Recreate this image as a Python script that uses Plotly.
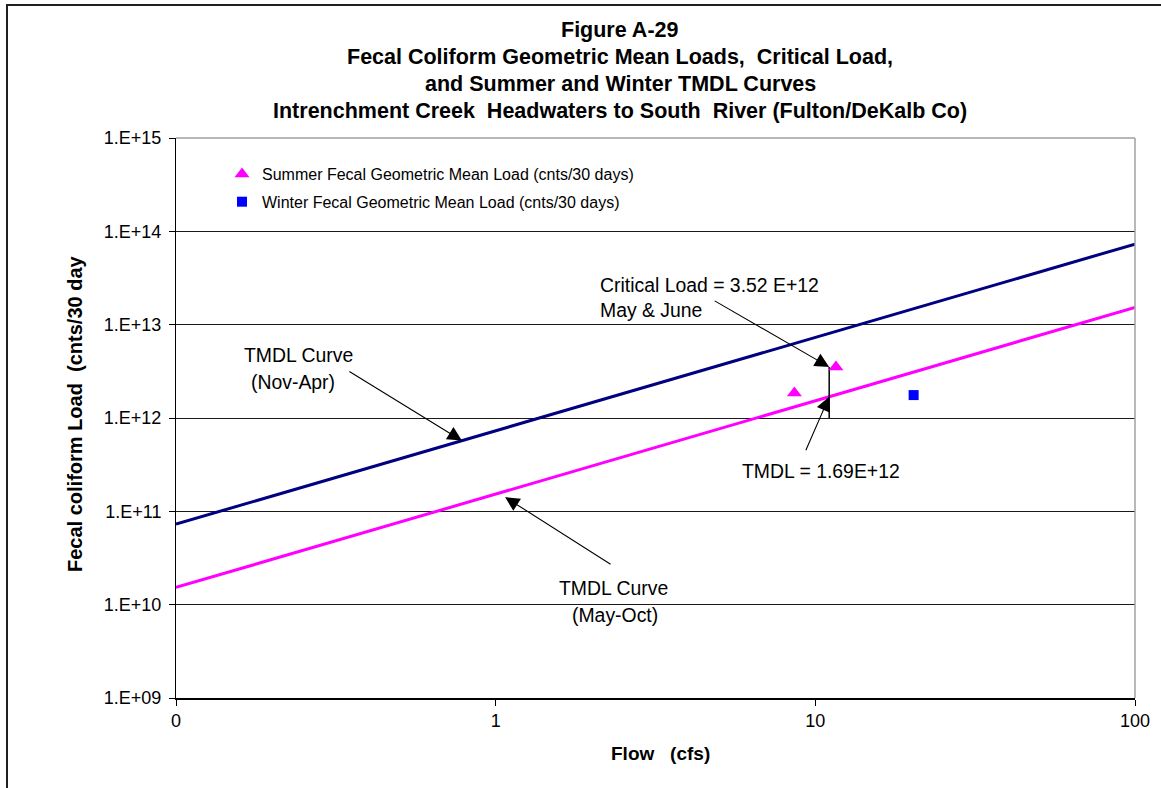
import math
import plotly.graph_objects as go

# ---- data -------------------------------------------------------------
flow_cfs = [0.1, 1, 10, 100]
summer_tmdl = [1.53e10, 1.53e11, 1.53e12, 1.53e13]   # May-Oct TMDL curve
winter_tmdl = [7.3e10, 7.3e11, 7.3e12, 7.3e13]       # Nov-Apr TMDL curve

summer_flow = [8.6, 11.6]
summer_load = [1.85e12, 3.52e12]
winter_flow = [20.3]
winter_load = [1.76e12]

critical_flow = 11.05
critical_load = 3.52e12
tmdl_load = 1.69e12

y_tickvals = [1e9, 1e10, 1e11, 1e12, 1e13, 1e14, 1e15]
y_ticktext = ["1.E+09", "1.E+10", "1.E+11", "1.E+12", "1.E+13", "1.E+14", "1.E+15"]
x_tickvals = [0.1, 1, 10, 100]
x_ticktext = ["0", "1", "10", "100"]

title_lines = [
    "Figure A-29",
    "Fecal Coliform Geometric Mean Loads,\u00a0 Critical Load,",
    "and Summer and Winter TMDL Curves",
    "Intrenchment Creek\u00a0 Headwaters to South\u00a0 River (Fulton/DeKalb Co)",
]

# ---- layout helpers ---------------------------------------------------
W, H = 1161, 788
L, R, T, B = 176, 1135, 138, 698
FONT = "Liberation Sans, Arial, Helvetica, sans-serif"


def px(x):
    return (x - L) / (R - L)


def py(y):
    return (B - y) / (B - T)


fig = go.Figure()

fig.add_trace(go.Scatter(x=flow_cfs, y=winter_tmdl, mode="lines",
                         line=dict(color="#000080", width=3),
                         showlegend=False, hoverinfo="skip"))
fig.add_trace(go.Scatter(x=flow_cfs, y=summer_tmdl, mode="lines",
                         line=dict(color="#ff00ff", width=3),
                         showlegend=False, hoverinfo="skip"))
fig.add_trace(go.Scatter(x=[critical_flow, critical_flow], y=[1e12, critical_load],
                         mode="lines", line=dict(color="black", width=1.5),
                         showlegend=False, hoverinfo="skip"))
fig.add_trace(go.Scatter(x=summer_flow, y=summer_load, mode="markers",
                         name="Summer Fecal Geometric Mean Load (cnts/30 days)",
                         legendgroup="summer",
                         marker=dict(symbol="triangle-up", size=13, color="#ff00ff")))
fig.add_trace(go.Scatter(x=winter_flow, y=winter_load, mode="markers",
                         name="Winter Fecal Geometric Mean Load (cnts/30 days)",
                         legendgroup="winter",
                         marker=dict(symbol="square", size=10, color="#0000ff")))

annotations = []

# chart title, one line per annotation
for text, yc in zip(title_lines, [30, 57, 84, 111]):
    annotations.append(dict(text="<b>%s</b>" % text, xref="paper", yref="paper",
                            x=px(620), y=py(yc), xanchor="center", yanchor="middle",
                            showarrow=False, font=dict(size=21.5, color="black", family=FONT)))

# axis titles
annotations.append(dict(text="<b>Fecal coliform Load\u00a0 (cnts/30 day</b>", xref="paper",
                        yref="paper", x=px(75), y=py(414), textangle=-90,
                        xanchor="center", yanchor="middle", showarrow=False,
                        font=dict(size=20, color="black", family=FONT)))
annotations.append(dict(text="<b>Flow\u00a0\u00a0 (cfs)</b>", xref="paper", yref="paper",
                        x=px(660), y=py(753), xanchor="center", yanchor="middle",
                        showarrow=False, font=dict(size=19, color="black", family=FONT)))

# callout texts
label_font = dict(size=19.4, color="black", family=FONT)
for text, x, y, anchor in [
    ("Critical Load = 3.52 E+12", 598, 285, "left"),
    ("May &amp; June", 598, 310, "left"),
    ("TMDL = 1.69E+12", 740, 471, "left"),
    ("TMDL Curve", 298, 355, "center"),
    ("(Nov-Apr)", 293, 382, "center"),
    ("TMDL Curve", 613, 588, "center"),
    ("(May-Oct)", 615, 615, "center"),
]:
    annotations.append(dict(text=text, xref="paper", yref="paper", x=px(x), y=py(y),
                            xanchor=anchor, yanchor="middle", showarrow=False,
                            font=label_font))

# callout arrows (tip in data coordinates, tail as pixel offset)
arrow_style = dict(text="", showarrow=True, arrowhead=2, arrowsize=2.6, arrowwidth=1.1,
                   arrowcolor="black", xref="x", yref="y")
winter_tip = 0.784
summer_tip = 1.07
for tip_x, tip_y, ax, ay in [
    (winter_tip, 7.3e11 * winter_tip, -114, -70),
    (summer_tip, 1.42e11, 107, 68),
    (critical_flow, critical_load, -116, -67),
    (critical_flow, tmdl_load, -24, 55),
]:
    annotations.append(dict(x=math.log10(tip_x), y=math.log10(tip_y), ax=ax, ay=ay,
                            **arrow_style))

shapes = [
    # gray top and right plot-area borders
    dict(type="line", xref="paper", yref="paper", x0=0, x1=1, y0=1, y1=1,
         line=dict(color="#a0a0a0", width=1.5)),
    dict(type="line", xref="paper", yref="paper", x0=1, x1=1, y0=0, y1=1,
         line=dict(color="#a0a0a0", width=1.5)),
    # outer chart frame
    dict(type="rect", xref="paper", yref="paper", x0=px(7), x1=px(1175),
         y0=py(800), y1=py(5), line=dict(color="#202020", width=2)),
]

fig.update_layout(
    width=W, height=H,
    margin=dict(l=L, r=W - R, t=T, b=H - B, pad=0),
    paper_bgcolor="white", plot_bgcolor="white",
    font=dict(family=FONT, color="black"),
    annotations=annotations,
    shapes=shapes,
    showlegend=True,
    legend=dict(x=px(222), y=py(157), xanchor="left", yanchor="top",
                bgcolor="rgba(0,0,0,0)", font=dict(size=16, color="black", family=FONT),
                traceorder="grouped", tracegroupgap=4),
)

fig.update_xaxes(type="log", range=[-1, 2], tickvals=x_tickvals, ticktext=x_ticktext,
                 ticks="outside", ticklen=6, tickcolor="black", showgrid=False,
                 showline=True, linecolor="black", linewidth=1.5, zeroline=False,
                 tickfont=dict(size=18, color="black", family=FONT))
fig.update_yaxes(type="log", range=[9, 15], tickvals=y_tickvals, ticktext=y_ticktext,
                 ticks="outside", ticklen=6, tickcolor="black", showgrid=True,
                 gridcolor="#1a1a1a", gridwidth=1, showline=True, linecolor="black",
                 linewidth=1, zeroline=False, ticklabelstandoff=4,
                 tickfont=dict(size=18, color="black", family=FONT))

fig.write_html("out.html")
